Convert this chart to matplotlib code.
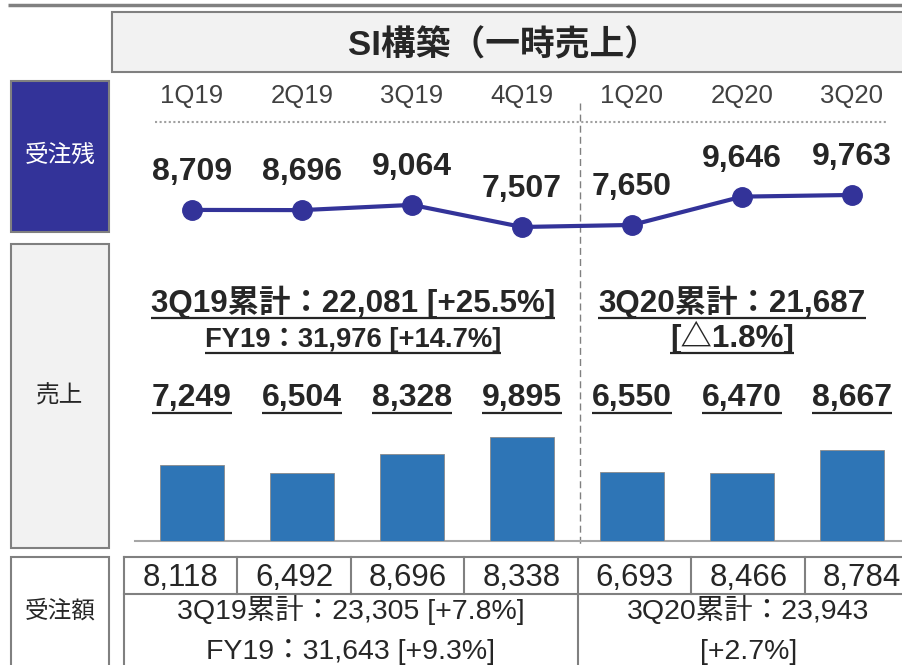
import matplotlib
matplotlib.use("Agg")
import matplotlib.pyplot as plt
from matplotlib.patches import Rectangle
from matplotlib.transforms import blended_transform_factory

plt.rcParams['font.family'] = ['Liberation Sans', 'Noto Sans CJK JP']

quarters = ["1Q19", "2Q19", "3Q19", "4Q19", "1Q20", "2Q20", "3Q20"]
backlog = [8709, 8696, 9064, 7507, 7650, 9646, 9763]
sales = [7249, 6504, 8328, 9895, 6550, 6470, 8667]
orders = [8118, 6492, 8696, 8338, 6693, 8466, 8784]

title = "SI構築（一時売上）"
row_labels = ["受注残", "売上", "受注額"]
sales_notes_19 = ["3Q19累計：22,081 [+25.5%]", "FY19：31,976 [+14.7%]"]
sales_notes_20 = ["3Q20累計：21,687", "[△1.8%]"]
order_notes_19 = ["3Q19累計：23,305 [+7.8%]", "FY19：31,643 [+9.3%]"]
order_notes_20 = ["3Q20累計：23,943", "[+2.7%]"]

NAVY = "#333399"
BLUE = "#2E75B6"
EDGE = "#808080"
PANEL = "#F2F2F2"
DARK = "#262626"

W, H = 903, 665
fig = plt.figure(figsize=(W / 100, H / 100), dpi=100)

# background axes in pixel units, y pointing down
bg = fig.add_axes([0, 0, 1, 1])
bg.set_xlim(0, W)
bg.set_ylim(H, 0)
bg.axis("off")


def frac(x0, y0, x1, y1):
    return [x0 / W, 1 - y1 / H, (x1 - x0) / W, (y1 - y0) / H]


# each quarter gets a 110 px slot, first one centred at x=192
n = len(quarters)
SLOT = 110
XL = 192 - SLOT / 2
XR = XL + SLOT * n

ax_line = fig.add_axes(frac(XL, 130, XR, 240))
ax_line.set_xlim(-0.5, n - 0.5)
ax_line.set_ylim(6590, 14340)
ax_line.axis("off")

ax_bar = fig.add_axes(frac(XL, 420, XR, 541))
ax_bar.set_xlim(-0.5, n - 0.5)
ax_bar.set_ylim(0, 11543)
ax_bar.axis("off")

# frame pieces
bg.plot([8, W], [5, 5], color=EDGE, lw=2.5, solid_capstyle="butt")
bg.add_patch(Rectangle((112, 12), 820, 60, facecolor=PANEL, edgecolor=EDGE, lw=1.5))
bg.text(504, 46, title, ha="center", va="center", fontsize=25,
        fontweight="bold", color=DARK)

bg.add_patch(Rectangle((11, 81), 98, 151, facecolor=NAVY, edgecolor=EDGE, lw=1.5))
bg.add_patch(Rectangle((11, 244), 98, 304, facecolor=PANEL, edgecolor=EDGE, lw=1.5))
bg.add_patch(Rectangle((11, 557), 98, 130, facecolor="white", edgecolor=EDGE, lw=1.5))
bg.text(60, 156, row_labels[0], ha="center", va="center", fontsize=17, color="white")
bg.text(60, 396, row_labels[1], ha="center", va="center", fontsize=17, color=DARK)
bg.text(60, 611, row_labels[2], ha="center", va="center", fontsize=17, color=DARK)

bg.plot([155, 888], [122, 122], color="#A0A0A0", lw=1.5, ls=(0, (1, 1.2)))
bg.plot([580, 580], [103, 545], color=EDGE, lw=1, ls=(0, (5, 3)))
bg.plot([135, W], [541, 541], color="#A6A6A6", lw=1.5)

# quarter labels
tq = blended_transform_factory(ax_line.transData, bg.transData)
for i, q in enumerate(quarters):
    bg.text(i, 96, q, transform=tq, ha="center", va="center",
            fontsize=18.5, color="#404040")

# backlog line
ax_line.plot(range(n), backlog, color=NAVY, lw=3, marker="o",
             markersize=14, clip_on=False)
for i, v in enumerate(backlog):
    ax_line.annotate(f"{v:,}", (i, v), xytext=(0, 21.5), textcoords="offset points",
                     ha="center", va="baseline", fontsize=23, fontweight="bold",
                     color=DARK, annotation_clip=False)

# sales bars
ax_bar.bar(range(n), sales, width=0.58, color=BLUE, edgecolor="#8A8A8A", lw=0.6)

underline = []
tb = blended_transform_factory(ax_bar.transData, bg.transData)
for i, v in enumerate(sales):
    t = bg.text(i, 406, f"{v:,}", transform=tb, ha="center", va="baseline",
                fontsize=23, fontweight="bold", color=DARK)
    underline.append((t, 406 + 7))

for txt, x, base in [(sales_notes_19[0], 353, 312), (sales_notes_19[1], 353, 347),
                     (sales_notes_20[0], 732, 312), (sales_notes_20[1], 732, 347)]:
    size = 19.7 if txt.startswith("FY") else 22.6
    t = bg.text(x, base, txt, ha="center", va="baseline", fontsize=size,
                fontweight="bold", color=DARK)
    underline.append((t, base + 6))

# orders table
COL0, COLW = 124, 113.5
edges = [COL0 + COLW * k for k in range(n + 1)]
bg.plot([COL0, W], [557, 557], color=EDGE, lw=1.5)
bg.plot([COL0, W], [594, 594], color=EDGE, lw=1.5)
bg.plot([COL0, COL0], [557, H], color=EDGE, lw=1.5)
for k in range(1, n):
    bottom = H if k == 4 else 594
    bg.plot([edges[k], edges[k]], [557, bottom], color=EDGE, lw=1.5)
for i, v in enumerate(orders):
    bg.text((edges[i] + edges[i + 1]) / 2, 586, f"{v:,}", ha="center",
            va="baseline", fontsize=22.5, color=DARK)

left_c = (edges[0] + edges[4]) / 2
right_c = (edges[4] + edges[7]) / 2
for row, base in enumerate([619, 659]):
    bg.text(left_c, base, order_notes_19[row], ha="center", va="baseline",
            fontsize=20.5, color=DARK)
    bg.text(right_c, base, order_notes_20[row], ha="center", va="baseline",
            fontsize=20.5, color=DARK)

# underlines need the rendered text widths
fig.canvas.draw()
r = fig.canvas.get_renderer()
for t, y in underline:
    bb = t.get_window_extent(r)
    bg.plot([bb.x0, bb.x1], [y, y], color=DARK, lw=1.6, solid_capstyle="butt")

fig.savefig("out.png", dpi=100)
